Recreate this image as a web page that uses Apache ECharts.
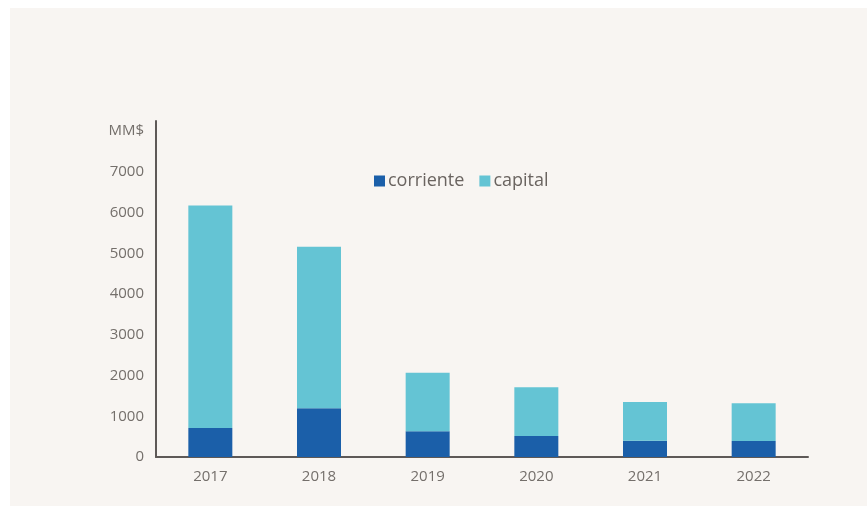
<!DOCTYPE html>
<html>
<head>
<meta charset="utf-8">
<script src="https://cdn.jsdelivr.net/npm/echarts@6/dist/echarts.min.js"></script>
<style>
html,body{margin:0;padding:0;background:#ffffff;width:867px;height:506px;overflow:hidden;}
#chart{position:absolute;left:10px;top:8px;width:857px;height:498px;background:#f8f5f2;}
</style>
</head>
<body>
<div id="chart"></div>
<script>
const categories = ['2017', '2018', '2019', '2020', '2021', '2022'];
const corriente = [710, 1200, 630, 515, 400, 390];
const capital = [5465, 3960, 1440, 1195, 950, 930];
const yTickLabels = {0:'0',1000:'1000',2000:'2000',3000:'3000',4000:'4000',5000:'5000',6000:'6000',7000:'7000',8000:'MM$'};

const chart = echarts.init(document.getElementById('chart'), null, {renderer:'canvas'});
const font = '"Open Sans", Lato, sans-serif';
chart.setOption({
  backgroundColor: '#f8f5f2',
  animation: false,
  legend: {
    left: 359, top: 159,
    itemWidth: 11, itemHeight: 11, itemGap: 15,
    icon: 'rect',
    textStyle: {color: '#6a6460', fontSize: 18, fontFamily: font, padding: [0,0,0,-2]},
    data: ['corriente', 'capital']
  },
  grid: {left: 146, top: 113, width: 652, height: 336, containLabel: false},
  xAxis: {
    type: 'category',
    data: categories,
    axisLine: {lineStyle: {color: '#5e5957', width: 2}},
    axisTick: {show: false},
    axisLabel: {color: '#746f6b', fontSize: 15, fontFamily: font, margin: 12}
  },
  yAxis: {
    type: 'value',
    min: 0, max: 8250, interval: 1000,
    axisLine: {show: true, lineStyle: {color: '#5e5957', width: 2}},
    axisTick: {show: false},
    splitLine: {show: false},
    axisLabel: {
      color: '#746f6b', fontSize: 15, fontFamily: font, margin: 12,
      formatter: v => (yTickLabels[v] !== undefined ? yTickLabels[v] : '')
    }
  },
  series: [
    {name: 'corriente', type: 'bar', stack: 'total', data: corriente, barWidth: 44, itemStyle: {color: '#1b5fa9'}},
    {name: 'capital', type: 'bar', stack: 'total', data: capital, barWidth: 44, itemStyle: {color: '#64c4d4'}}
  ]
});
</script>
</body>
</html>
